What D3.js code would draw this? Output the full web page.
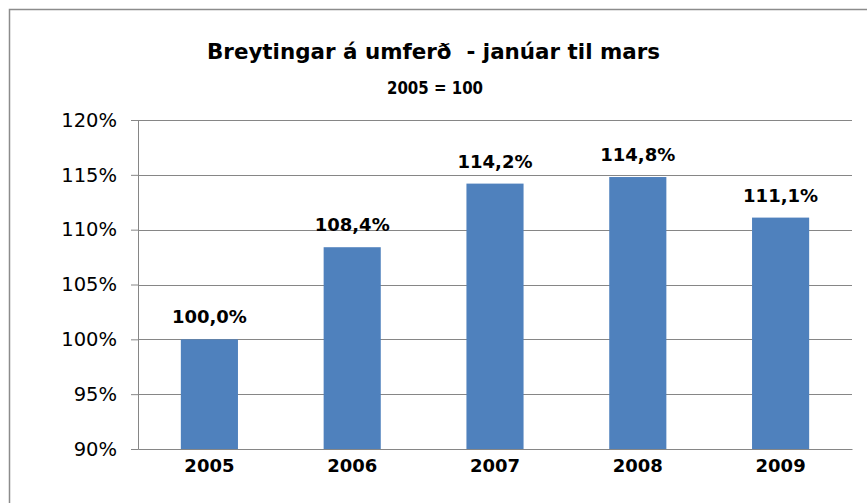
<!DOCTYPE html>
<html>
<head>
<meta charset="utf-8">
<script src="https://cdn.jsdelivr.net/npm/d3@7"></script>
<style>
  body { margin: 0; background: #fff; }
  text { font-family: "DejaVu Sans", sans-serif; fill: #000; }
</style>
</head>
<body>
<svg width="867" height="503"></svg>
<script>
const years = ['2005', '2006', '2007', '2008', '2009'];
const values = [100.0, 108.4, 114.2, 114.8, 111.1];
const yTicks = [90, 95, 100, 105, 110, 115, 120];

const data = years.map((year, i) => ({year: year, value: values[i]}));

const svg = d3.select('svg');

// outer chart frame
svg.append('rect')
  .attr('x', 9.5).attr('y', 9.5)
  .attr('width', 870).attr('height', 520)
  .attr('fill', 'none')
  .attr('stroke', '#8c8c8c')
  .attr('stroke-width', 1.5);

const x = d3.scaleBand()
  .domain(years)
  .range([138, 852])
  .paddingInner(0.6)
  .paddingOuter(0.3);

const y = d3.scaleLinear()
  .domain([90, 120])
  .range([449, 120]);

// gridlines + y axis
const yAxis = svg.append('g')
  .attr('transform', 'translate(138, 0)')
  .call(d3.axisLeft(y).tickValues(yTicks).tickSize(7).tickFormat(d => d + '%'));
yAxis.select('.domain').attr('stroke', '#868686');
yAxis.selectAll('.tick line').attr('stroke', '#868686');
yAxis.selectAll('.tick text')
  .attr('x', -21)
  .style('font-size', '19.5px')
  .style('font-family', '"DejaVu Sans", sans-serif');

svg.append('g').selectAll('.grid')
  .data(yTicks.slice(1))
  .enter().append('line')
    .attr('x1', 138).attr('x2', 852)
    .attr('y1', d => Math.round(y(d)) + 0.5)
    .attr('y2', d => Math.round(y(d)) + 0.5)
    .attr('stroke', '#868686');

// bars
svg.append('g').selectAll('rect')
  .data(data)
  .enter().append('rect')
    .attr('x', d => x(d.year))
    .attr('y', d => y(d.value))
    .attr('width', x.bandwidth())
    .attr('height', d => y(90) - y(d.value))
    .attr('fill', '#4f81bd');

// x axis
const xAxis = svg.append('g')
  .attr('transform', 'translate(0, 449)')
  .call(d3.axisBottom(x).tickSize(0).tickPadding(10));
xAxis.select('.domain').attr('stroke', '#868686');
xAxis.selectAll('.tick text')
  .style('font-size', '18px')
  .style('font-weight', 'bold')
  .style('font-family', '"DejaVu Sans", sans-serif');

// value labels
svg.append('g').selectAll('text')
  .data(data)
  .enter().append('text')
    .attr('x', d => x(d.year) + x.bandwidth() / 2)
    .attr('y', d => y(d.value) - 16)
    .attr('text-anchor', 'middle')
    .style('font-size', '18px')
    .style('font-weight', 'bold')
    .text(d => d.value.toFixed(1).replace('.', ',') + '%');

// titles
svg.append('text')
  .attr('x', 207).attr('y', 59)
  .attr('textLength', 453)
  .attr('lengthAdjust', 'spacingAndGlyphs')
  .style('font-size', '21px')
  .style('font-weight', 'bold')
  .style('white-space', 'pre')
  .text('Breytingar á umferð  - janúar til mars');

svg.append('text')
  .attr('x', 387).attr('y', 94)
  .attr('textLength', 96)
  .attr('lengthAdjust', 'spacingAndGlyphs')
  .style('font-size', '17px')
  .style('font-weight', 'bold')
  .text('2005 = 100');
</script>
</body>
</html>
